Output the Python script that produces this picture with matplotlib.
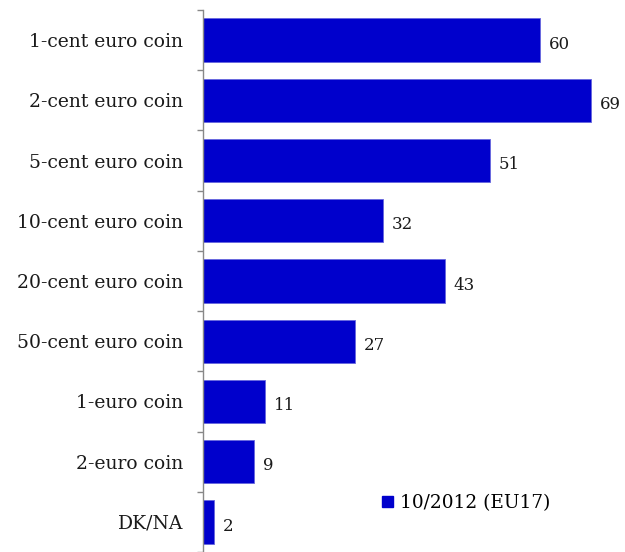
import matplotlib.pyplot as plt
from matplotlib.patches import Patch

categories = ["1-cent euro coin", "2-cent euro coin", "5-cent euro coin", "10-cent euro coin",
              "20-cent euro coin", "50-cent euro coin", "1-euro coin", "2-euro coin", "DK/NA"]
values = [60, 69, 51, 32, 43, 27, 11, 9, 2]
series_name = "10/2012 (EU17)"

plt.rcParams['font.family'] = ['DejaVu Serif']
fig = plt.figure(figsize=(6.25, 5.52), dpi=100)
ax = fig.add_axes([203/625, 0, 1 - 203/625, 1 - 10/552])

color = '#0000CC'
y = list(range(len(categories)))
bars = ax.barh(y, values, height=0.72, color=color, edgecolor='#6666DD', linewidth=0.6,
               label=series_name)
ax.set_ylim(len(categories) - 0.5, -0.5)
ax.set_xlim(0, 422/5.62)

for yi, v in zip(y, values):
    ax.text(v + 1.6, yi + 0.07, str(v), va='center', ha='left', fontsize=12, color='#1a1a1a')

ax.set_yticks(y)
ax.set_yticklabels(categories, fontsize=13.5, color='#1a1a1a')
ax.tick_params(axis='y', which='major', length=0, pad=14.5)
ax.set_yticks([i - 0.5 for i in range(len(categories) + 1)], minor=True)
ax.tick_params(axis='y', which='minor', length=4, color='#888888', width=1)
ax.set_xticks([])
for s in ['top', 'right', 'bottom']:
    ax.spines[s].set_visible(False)
ax.spines['left'].set_color('#888888')
ax.spines['left'].set_linewidth(1)

handle = Patch(facecolor=color, edgecolor=color)
fig.legend([handle], [series_name], loc='center left', bbox_to_anchor=(365/625, 1 - 503/552),
           frameon=False, fontsize=13.3, handlelength=0.6, handleheight=0.6, handletextpad=0.4)

fig.savefig('out.png', dpi=100)
